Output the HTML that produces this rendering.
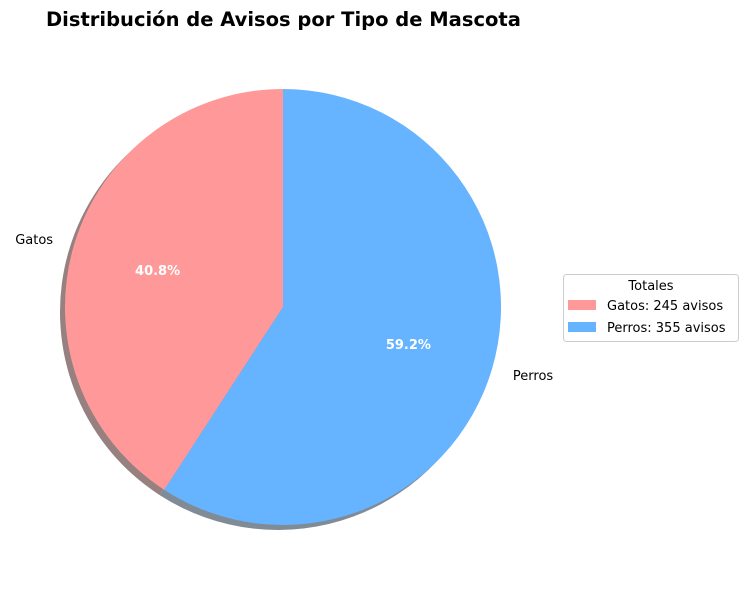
<!DOCTYPE html>
<html><head><meta charset="utf-8"><style>
body{margin:0;background:#fff;font-family:"DejaVu Sans","Liberation Sans",sans-serif}
svg text{font-family:"DejaVu Sans","Liberation Sans",sans-serif}
</style></head><body>
<svg width="748" height="590" viewBox="0 0 748 590">
<text x="46" y="26" text-anchor="start" font-size="19.5" font-weight="bold">Distribución de Avisos por Tipo de Mascota</text>
<g id="pie"></g>
<g>
<rect x="563.5" y="274.5" width="175" height="67" rx="3" fill="#fff" stroke="#ccc"/>
<text x="651" y="290" text-anchor="middle" font-size="13">Totales</text>
<g id="legend-items"></g>
</g>
</svg>
<script>
const categories=["Gatos","Perros"];
const values=[245,355];
const colors=["#ff9999","#66b3ff"];
const ns="http://www.w3.org/2000/svg";
const cx=283,cy=307,r=218;
const pie=document.getElementById('pie');
const total=values.reduce((a,b)=>a+b,0);
function pt(a,rad,ox,oy){return [cx+(ox||0)+rad*Math.cos(a*Math.PI/180),cy+(oy||0)-rad*Math.sin(a*Math.PI/180)];}
function arc(a0,a1,ox,oy){const p0=pt(a0,r,ox,oy),p1=pt(a1,r,ox,oy);const large=(a1-a0)>180?1:0;
return `M${cx+(ox||0)},${cy+(oy||0)} L${p0[0]},${p0[1]} A${r},${r} 0 ${large} 0 ${p1[0]},${p1[1]} Z`;}
let a=90;
const angles=values.map(v=>{const s=a;a+=v/total*360;return [s,a];});
angles.forEach(([a0,a1],i)=>{
const sh=document.createElementNS(ns,'path');
sh.setAttribute('d',arc(a0,a1,-5,5));sh.setAttribute('fill',i==0?'#6a4a4a':'#4a5a6a');sh.setAttribute('opacity','0.7');


pie.appendChild(sh);});
angles.forEach(([a0,a1],i)=>{
const p=document.createElementNS(ns,'path');
p.setAttribute('d',arc(a0,a1));p.setAttribute('fill',colors[i]);


pie.appendChild(p);
const m=(a0+a1)/2;
const lp=pt(m,r*1.1);
const t=document.createElementNS(ns,'text');
t.setAttribute('x',lp[0]);t.setAttribute('y',lp[1]+5);t.setAttribute('font-size','13');
t.setAttribute('text-anchor',Math.cos(m*Math.PI/180)<0?'end':'start');
t.textContent=categories[i];


pie.appendChild(t);
const pp=pt(m,r*0.6);
const q=document.createElementNS(ns,'text');
q.setAttribute('x',pp[0]);q.setAttribute('y',pp[1]+5);q.setAttribute('font-size','13');
q.setAttribute('font-weight','bold');q.setAttribute('fill','#fff');q.setAttribute('text-anchor','middle');
q.textContent=(values[i]/total*100).toFixed(1)+'%';


pie.appendChild(q);
});
const li=document.getElementById('legend-items');
categories.forEach((c,i)=>{
const y=305+i*22;
const rc=document.createElementNS(ns,'rect');
rc.setAttribute('x',568);rc.setAttribute('y',y-5);rc.setAttribute('width',28);rc.setAttribute('height',10);rc.setAttribute('fill',colors[i]);


li.appendChild(rc);
const t=document.createElementNS(ns,'text');
t.setAttribute('x',607);t.setAttribute('y',y+5);t.setAttribute('font-size','13');
t.textContent=c+': '+values[i]+' avisos';


li.appendChild(t);
});
</script>
</body></html>
